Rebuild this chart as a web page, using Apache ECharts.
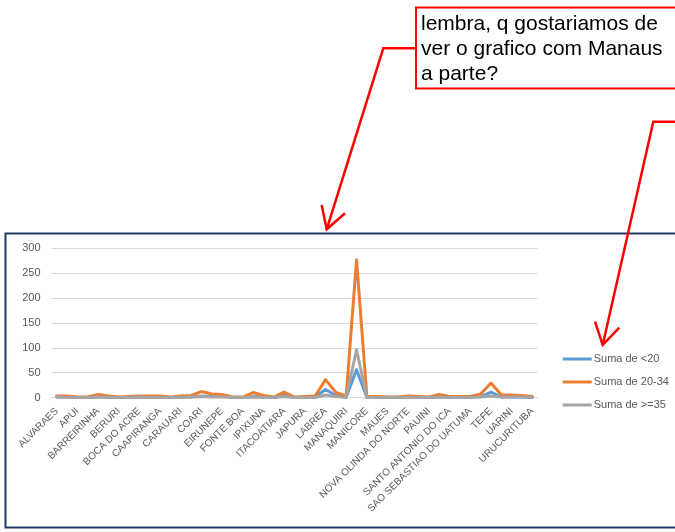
<!DOCTYPE html>
<html>
<head>
<meta charset="utf-8">
<script src="https://cdn.jsdelivr.net/npm/echarts@6/dist/echarts.min.js"></script>
<style>
  html, body { margin: 0; padding: 0; background: #ffffff; }
  #chart { width: 675px; height: 532px; }
</style>
</head>
<body>
<div id="chart"></div>
<script>
// Municipalities (every other one gets a visible label on the axis)
const municipios = [
  'ALVARAES', 'AMATURA', 'APUI', 'AUTAZES', 'BARREIRINHA', 'BENJAMIN CONSTANT',
  'BERURI', 'BOA VISTA DO RAMOS', 'BOCA DO ACRE', 'BORBA', 'CAAPIRANGA', 'CANUTAMA',
  'CARAUARI', 'CAREIRO', 'COARI', 'CODAJAS', 'EIRUNEPE', 'ENVIRA', 'FONTE BOA',
  'HUMAITA', 'IPIXUNA', 'IRANDUBA', 'ITACOATIARA', 'ITAPIRANGA', 'JAPURA', 'JUTAI',
  'LABREA', 'MANACAPURU', 'MANAQUIRI', 'MANAUS', 'MANICORE', 'MARAA', 'MAUES',
  'NHAMUNDA', 'NOVA OLINDA DO NORTE', 'PARINTINS', 'PAUINI', 'PRESIDENTE FIGUEIREDO',
  'SANTO ANTONIO DO ICA', 'SAO GABRIEL DA CACHOEIRA', 'SAO SEBASTIAO DO UATUMA',
  'TABATINGA', 'TEFE', 'TONANTINS', 'UARINI', 'URUCARA', 'URUCURITUBA'
];

// Sums per age group
const sumaMenor20 = [
  1, 1, 0, 0, 1, 1, 0, 0, 1, 1, 2, 0, 1, 1, 3, 2, 5, 0, 0, 2, 1, 0, 4, 0, 0, 1,
  16, 4, 1, 56, 0, 0, 0, 0, 1, 1, 0, 1, 1, 0, 1, 2, 11, 1, 1, 1, 0
];
const suma20a34 = [
  3, 3, 1, 1, 6, 3, 1, 2, 3, 3, 3, 1, 3, 4, 12, 7, 6, 1, 1, 10, 4, 1, 11, 1, 2, 3,
  36, 10, 3, 277, 2, 2, 1, 1, 3, 2, 1, 6, 2, 2, 2, 7, 29, 5, 5, 4, 2
];
const suma35mais = [
  1, 0, 0, 0, 1, 0, 0, 0, 1, 0, 0, 0, 0, 1, 2, 1, 1, 0, 0, 1, 0, 0, 2, 0, 0, 0,
  5, 2, 0, 96, 0, 0, 0, 0, 0, 0, 0, 1, 0, 0, 0, 1, 3, 1, 1, 1, 0
];

// Value axis ticks
const yMin = 0;
const yMax = 300;
const yStep = 50;

const seriesNames = ['Suma de <20', 'Suma de 20-34', 'Suma de >=35'];
const seriesColors = ['#5b9bd5', '#ed7d31', '#a5a5a5'];
const seriesData = [sumaMenor20, suma20a34, suma35mais];

const txtColor = '#595959';
const baseFont = 'Liberation Sans';

const chart = echarts.init(document.getElementById('chart'), null, { renderer: 'canvas' });

const RED = '#ff0000';

chart.setOption({
  backgroundColor: '#ffffff',
  animation: false,
  textStyle: { fontFamily: baseFont },
  grid: { left: 51.5, right: 137.5, top: 248.3, bottom: 134.5, containLabel: false },
  legend: {
    orient: 'vertical',
    left: 557.7,
    top: 347,
    itemWidth: 29,
    itemHeight: 3,
    itemGap: 9,
    icon: 'rect',
    textStyle: { color: txtColor, fontSize: 11, fontFamily: baseFont, lineHeight: 14, padding: [0, 0, 0, -3] },
    data: seriesNames
  },
  xAxis: {
    type: 'category',
    data: municipios,
    boundaryGap: true,
    axisLine: { lineStyle: { color: '#d9d9d9', width: 1 } },
    axisTick: { show: false },
    axisLabel: {
      interval: 1,
      rotate: 45,
      color: txtColor,
      fontSize: 10,
      fontFamily: baseFont,
      margin: 12
    }
  },
  yAxis: {
    type: 'value',
    min: yMin,
    max: yMax,
    interval: yStep,
    axisLine: { show: false },
    axisTick: { show: false },
    splitLine: { lineStyle: { color: '#d9d9d9', width: 1 } },
    axisLabel: { color: txtColor, fontSize: 11, fontFamily: baseFont, margin: 11 }
  },
  series: seriesNames.map((name, i) => ({
    name: name,
    type: 'line',
    data: seriesData[i],
    showSymbol: false,
    symbol: 'none',
    color: seriesColors[i],
    lineStyle: { color: seriesColors[i], width: 3, join: 'round', cap: 'round' },
    z: 2 + i
  })),
  graphic: [
    // frame around the chart
    {
      type: 'rect',
      shape: { x: 5.5, y: 233.5, width: 680, height: 294 },
      style: { fill: 'none', stroke: '#1f3864', lineWidth: 2 },
      z: 1
    },
    // comment box
    {
      type: 'rect',
      shape: { x: 416, y: 7.5, width: 270, height: 81 },
      style: { fill: '#ffffff', stroke: RED, lineWidth: 2 },
      z: 20
    },
    {
      type: 'text',
      left: 421,
      top: 12,
      style: {
        text: 'lembra, q gostariamos de\nver o grafico com Manaus\na parte?',
        fill: '#000000',
        font: '21px "Liberation Sans"',
        lineHeight: 25
      },
      z: 21
    },
    // left arrow
    {
      type: 'polyline',
      shape: { points: [[415, 48.3], [383.3, 48.3], [326.7, 229.3]] },
      style: { stroke: RED, lineWidth: 2.5, fill: 'none' },
      z: 20
    },
    {
      type: 'polyline',
      shape: { points: [[321.7, 205], [326.7, 229.3], [345, 213.3]] },
      style: { stroke: RED, lineWidth: 2.5, fill: 'none' },
      z: 20
    },
    // right arrow
    {
      type: 'polyline',
      shape: { points: [[676, 121.7], [653.3, 121.7], [602.7, 345]] },
      style: { stroke: RED, lineWidth: 2.5, fill: 'none' },
      z: 20
    },
    {
      type: 'polyline',
      shape: { points: [[595, 321.7], [602.7, 345], [619.3, 327.7]] },
      style: { stroke: RED, lineWidth: 2.5, fill: 'none' },
      z: 20
    }
  ]
});
</script>
</body>
</html>
